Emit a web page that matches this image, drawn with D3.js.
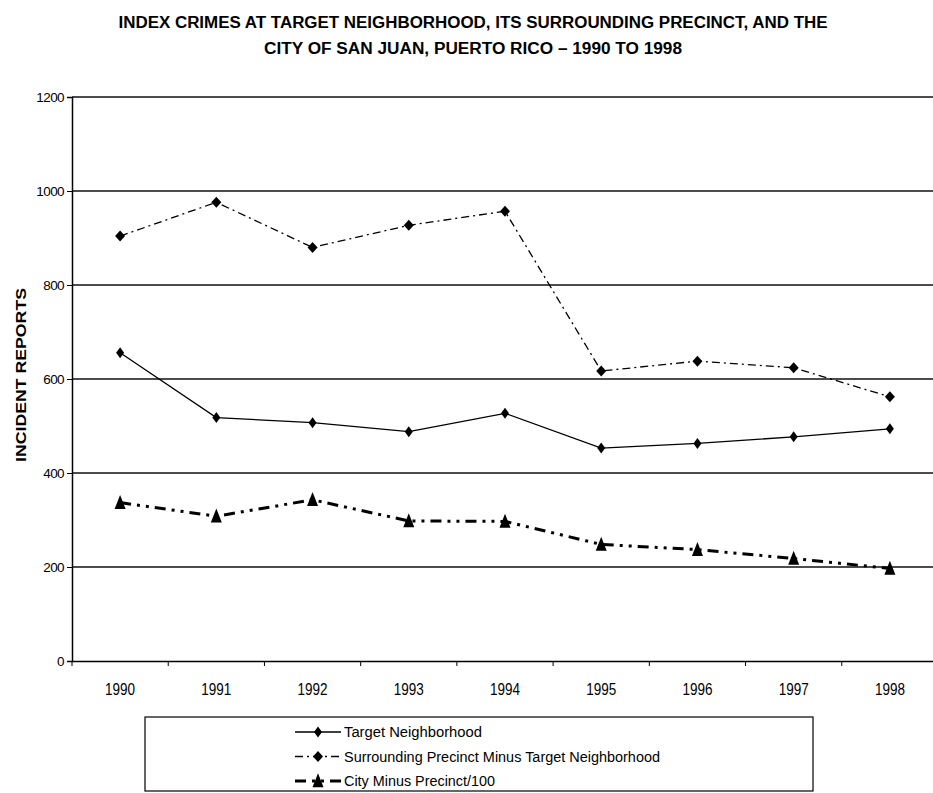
<!DOCTYPE html>
<html>
<head>
<meta charset="utf-8">
<script src="https://cdn.jsdelivr.net/npm/d3@7"></script>
<style>
  html, body { margin: 0; padding: 0; background: #fff; }
  svg { display: block; font-family: "Liberation Sans", Arial, sans-serif; }
</style>
</head>
<body>
<div id="chart"></div>
<script>
const years = ['1990', '1991', '1992', '1993', '1994', '1995', '1996', '1997', '1998'];
const targetNeighborhood = [656, 518, 507, 488, 527, 453, 463, 477, 494];
const surroundingPrecinct = [904, 976, 880, 927, 957, 617, 638, 624, 562];
const cityMinusPrecinct = [337, 308, 343, 298, 297, 248, 237, 218, 197];
const yTicks = [0, 200, 400, 600, 800, 1000, 1200];
const titleLines = [
  'INDEX CRIMES AT TARGET NEIGHBORHOOD, ITS SURROUNDING PRECINCT, AND THE',
  'CITY OF SAN JUAN, PUERTO RICO – 1990 TO 1998'
];
const seriesNames = [
  'Target Neighborhood',
  'Surrounding Precinct Minus Target Neighborhood',
  'City Minus Precinct/100'
];

const width = 933, height = 793;
const svg = d3.select('#chart').append('svg')
  .attr('width', width).attr('height', height);

const x = d3.scaleBand().domain(years).range([72, 938]).padding(0);
const y = d3.scaleLinear().domain([0, 1200]).range([661, 97]);
const cx = d => x(d) + x.bandwidth() / 2;

// title
svg.selectAll('text.title').data(titleLines).join('text')
  .attr('class', 'title')
  .attr('x', 473).attr('y', (d, i) => 28 + i * 26)
  .attr('text-anchor', 'middle')
  .attr('font-size', 16).attr('font-weight', 'bold')
  .attr('textLength', (d, i) => i === 0 ? 709 : 418)
  .attr('lengthAdjust', 'spacingAndGlyphs')
  .text(d => d);

// gridlines
svg.append('g').selectAll('line').data(yTicks.filter(v => v > 0)).join('line')
  .attr('x1', 72).attr('x2', width)
  .attr('y1', d => y(d)).attr('y2', d => y(d))
  .attr('stroke', '#111').attr('stroke-width', 1.3);

// y axis
const yAxis = svg.append('g').attr('transform', 'translate(72,0)')
  .call(d3.axisLeft(y).tickValues(yTicks).tickFormat(d3.format('d')).tickSize(5).tickPadding(3));
yAxis.select('.domain').attr('stroke', '#000').attr('stroke-width', 1.5);
yAxis.selectAll('.tick line').attr('stroke', '#000');
yAxis.selectAll('text').attr('font-size', 13.5).attr('fill', '#000')
  .attr('letter-spacing', -0.6)
  .attr('font-family', '"Liberation Sans", Arial, sans-serif');

// x axis
const xAxis = svg.append('g').attr('transform', `translate(0,${y(0)})`)
  .call(d3.axisBottom(x).tickSize(0).tickPadding(0));
xAxis.select('.domain').attr('stroke', '#000').attr('stroke-width', 1.5);
xAxis.selectAll('.tick text')
  .attr('y', 23).attr('font-size', 16).attr('fill', '#000')
  .attr('textLength', 30).attr('lengthAdjust', 'spacingAndGlyphs')
  .attr('font-family', '"Liberation Sans", Arial, sans-serif');
svg.append('g').selectAll('line').data(years).join('line')
  .attr('x1', d => x(d)).attr('x2', d => x(d))
  .attr('y1', y(0)).attr('y2', y(0) + 5)
  .attr('stroke', '#000').attr('stroke-width', 1);

// axis title
svg.append('text')
  .attr('transform', 'translate(26,375) rotate(-90)')
  .attr('text-anchor', 'middle')
  .attr('font-size', 14).attr('font-weight', 'bold')
  .attr('textLength', 174).attr('lengthAdjust', 'spacingAndGlyphs')
  .text('INCIDENT REPORTS');

// series
const diamond = (w, h) => `M0,${-h / 2}L${w / 2},0L0,${h / 2}L${-w / 2},0Z`;
const triangle = (w, h) => `M0,${-h * 0.55}L${w / 2},${h * 0.45}L${-w / 2},${h * 0.45}Z`;

const series = [
  { values: targetNeighborhood, width: 1.3, dash: null, marker: diamond(8, 11) },
  { values: surroundingPrecinct, width: 1.3, dash: '8,4,2,4', marker: diamond(10, 11) },
  { values: cityMinusPrecinct, width: 3, dash: '11,6,3,6,3,6', marker: triangle(11, 14) }
];

const line = d3.line().x(d => cx(d.year)).y(d => y(d.value));

series.forEach(s => {
  const pts = years.map((yr, i) => ({ year: yr, value: s.values[i] }));
  svg.append('path').datum(pts)
    .attr('d', line)
    .attr('fill', 'none').attr('stroke', '#000')
    .attr('stroke-width', s.width)
    .attr('stroke-dasharray', s.dash);
  svg.append('g').selectAll('path').data(pts).join('path')
    .attr('transform', d => `translate(${cx(d.year)},${y(d.value)})`)
    .attr('d', s.marker).attr('fill', '#000');
});

// legend
const legend = svg.append('g');
legend.append('rect')
  .attr('x', 145).attr('y', 717).attr('width', 668).attr('height', 74)
  .attr('fill', 'none').attr('stroke', '#000').attr('stroke-width', 1.2);

const legendLens = [138, 316, 151];
seriesNames.forEach((name, i) => {
  const ly = 732 + i * 24.5;
  const s = series[i];
  const row = legend.append('g').attr('transform', `translate(0,${ly})`);
  row.append('line')
    .attr('x1', 295).attr('x2', 341).attr('y1', 0).attr('y2', 0)
    .attr('stroke', '#000').attr('stroke-width', s.width)
    .attr('stroke-dasharray', s.dash);
  row.append('path').attr('transform', 'translate(318,0)')
    .attr('d', s.marker).attr('fill', '#000');
  row.append('text')
    .attr('x', 344).attr('y', 5)
    .attr('font-size', 14)
    .attr('textLength', legendLens[i]).attr('lengthAdjust', 'spacingAndGlyphs')
    .text(name);
});
</script>
</body>
</html>
